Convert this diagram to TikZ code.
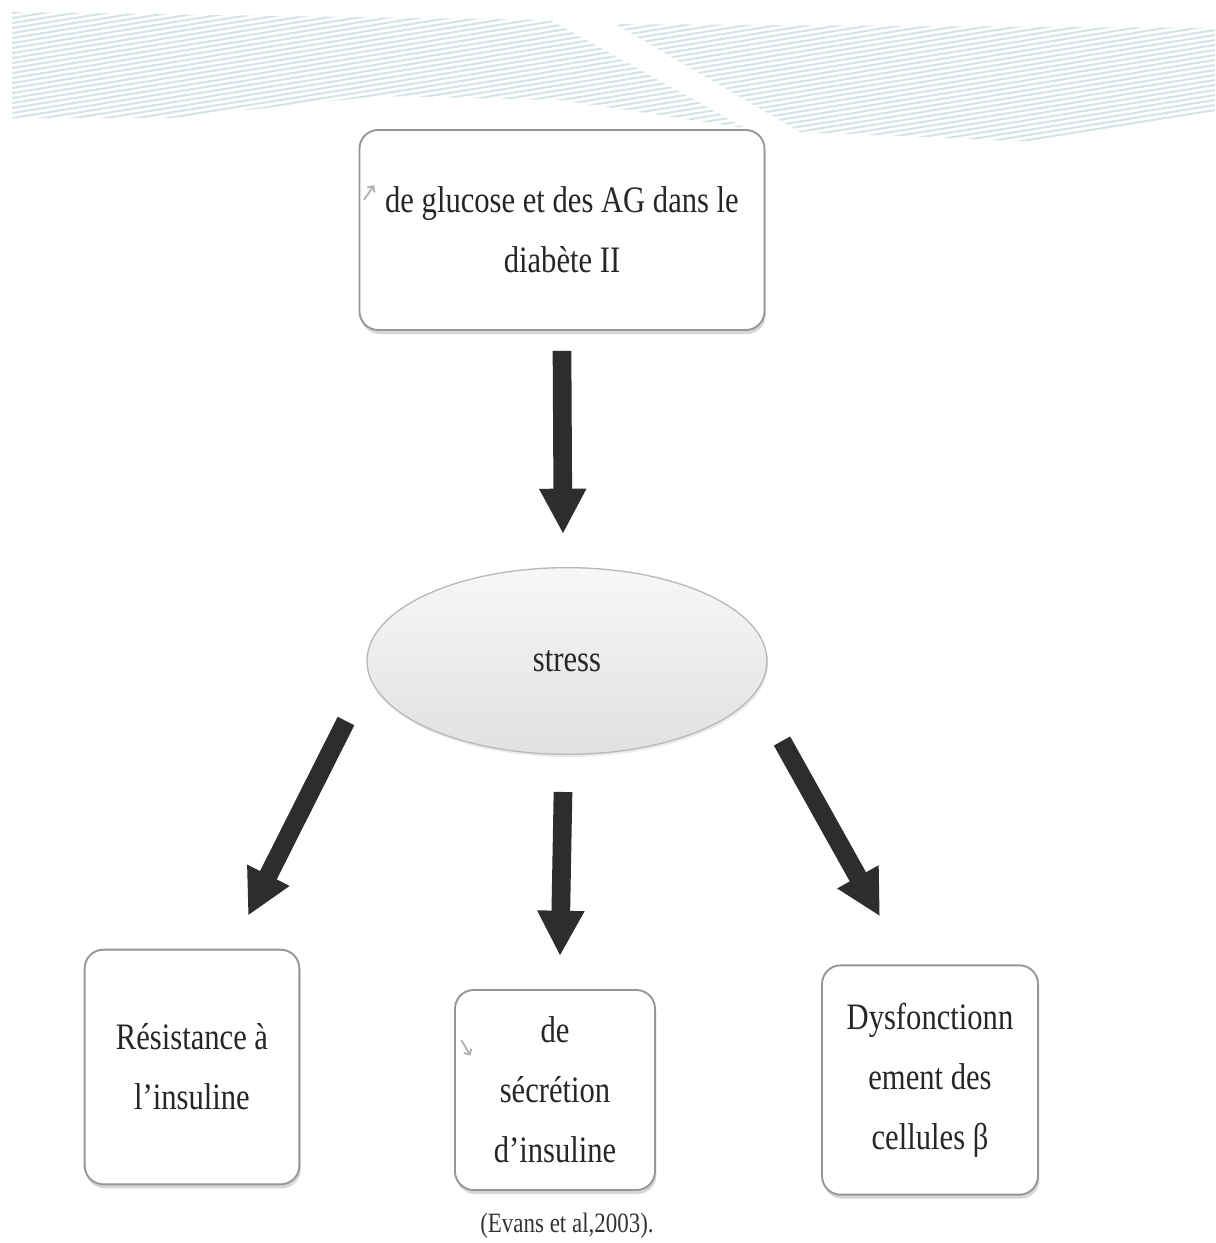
\documentclass[tikz,border=0pt]{standalone}
\usepackage{fontspec}
\setmainfont{Liberation Serif}[FakeStretch=0.82]
\newfontfamily\symfont{DejaVu Sans}
\usetikzlibrary{arrows.meta,shapes.geometric,shadows,calc}
\definecolor{stripe}{RGB}{212,228,230}
\definecolor{boxline}{RGB}{150,150,150}
\definecolor{arrowdark}{RGB}{45,45,45}
\begin{document}
\begin{tikzpicture}[x=0.75pt,y=-0.75pt,
  txt/.style={font=\fontsize{28}{45}\selectfont, align=center, text=black!85},
  box/.style={txt, draw=boxline, line width=1.4pt, rounded corners=14pt, fill=white,
    inner sep=0pt,
    drop shadow={shadow xshift=1pt, shadow yshift=-3pt, fill=gray!45, opacity=0.7}},
  bigarrow/.style={draw=arrowdark, line width=14pt, -{Triangle[width=33pt,length=34pt]}},
  smallsym/.style={font=\symfont\fontsize{18}{18}\selectfont, text=gray!60, inner sep=0pt}
]
\useasboundingbox (0,0) rectangle (1215,1243);
\fill[white] (0,0) rectangle (1215,1243);

% decorative striped band at the top
\begin{scope}
  \clip (12,12) -- (550,20) -- (745,128) -- (560,100) -- (380,96) -- (170,118) -- (12,118) -- cycle
        (615,24) -- (1215,28) -- (1215,112) -- (1040,142) -- (800,132) -- cycle;
  \foreach \c in {0,5,...,400}{
    \draw[stripe, line width=1.5pt] (0,\c) -- (1215,\c-195);
  }
\end{scope}

% nodes
\node[box, minimum width=303.75pt, minimum height=150pt] (top) at (562,230)
  {de glucose et des AG dans le\\diabète II};
\node[smallsym, rotate=10] (up) at (369,194) {↗};

\node[ellipse, draw=gray!55, line width=1pt, top color=gray!6, bottom color=gray!24,
      minimum width=300pt, minimum height=140pt, txt,
      drop shadow={shadow xshift=1pt, shadow yshift=-2pt, fill=gray!30, opacity=0.5}]
  (ell) at (567,661) {stress};

\node[box, minimum width=161pt, minimum height=176pt] (res) at (192,1067)
  {Résistance à\\l’insuline};
\node[box, minimum width=150pt, minimum height=150pt] (sec) at (555,1090)
  {de\\sécrétion\\d’insuline};
\node[smallsym, rotate=-15] (down) at (466,1048) {↘};
\node[box, minimum width=162pt, minimum height=172pt] (dys) at (930,1080)
  {Dysfonctionn\\ement des\\cellules β};

\node[font=\fontsize{21}{24}\selectfont, text=black!80, inner sep=0pt] (cite) at (567,1226)
  {(Evans et al,2003).};

% arrow anchor points
\coordinate (m1) at ($(top.south)+(0,20)$);
\coordinate (m2) at ($(ell.north)+(-4,-33)$);
\coordinate (l1) at ($(ell.center)+(-221,60)$);
\coordinate (l2) at ($(res.north)+(56,-33)$);
\coordinate (c1) at ($(ell.south)+(-4,37)$);
\coordinate (c2) at ($(sec.north)+(5,-33)$);
\coordinate (r1) at ($(ell.center)+(215,80)$);
\coordinate (r2) at ($(dys.north)+(-50,-48)$);

\draw[bigarrow] (m1) -- (m2);
\draw[bigarrow] (l1) -- (l2);
\draw[bigarrow] (c1) -- (c2);
\draw[bigarrow] (r1) -- (r2);
\end{tikzpicture}
\end{document}
